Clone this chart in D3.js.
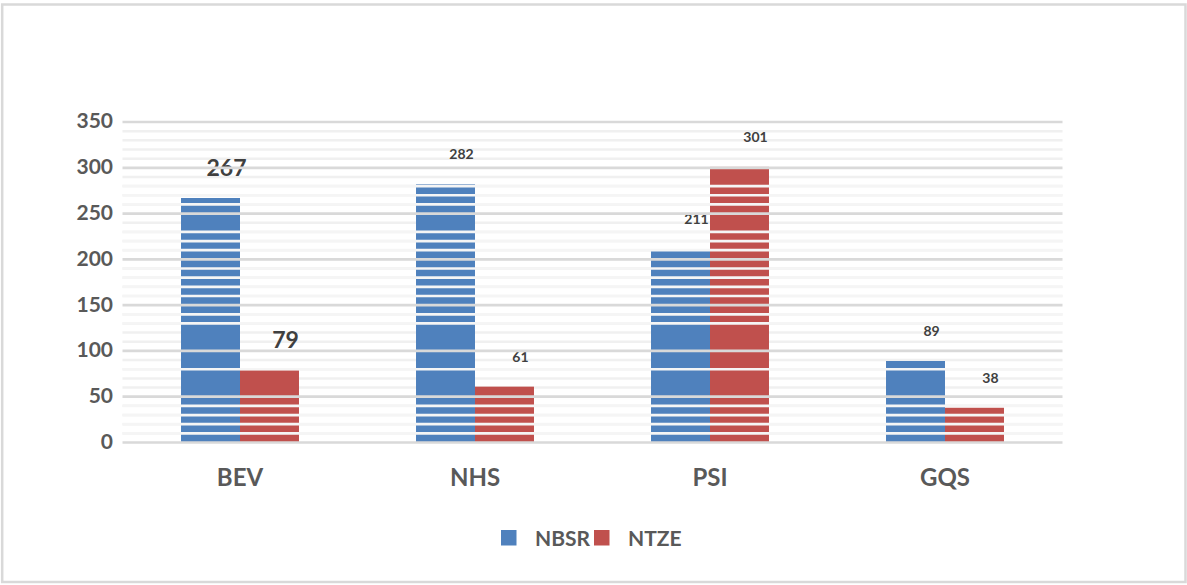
<!DOCTYPE html>
<html>
<head>
<meta charset="utf-8">
<script src="https://cdn.jsdelivr.net/npm/d3@7"></script>
<style>
  html, body { margin: 0; padding: 0; background: #fff; }
  svg { display: block; }
  text { font-family: Lato, "Open Sans", sans-serif; font-weight: bold; }
</style>
</head>
<body>
<svg id="chart" width="1187" height="585"></svg>
<script>
// ---- data ----
const categories = ["BEV", "NHS", "PSI", "GQS"];
const seriesNames = ["NBSR", "NTZE"];
const nbsrValues = [267, 282, 211, 89];
const ntzeValues = [79, 61, 301, 38];
const yTickValues = [0, 50, 100, 150, 200, 250, 300, 350];
const minorTickValues = d3.range(10, 350, 10).filter(v => v % 50 !== 0);
const stripeTickValues = [10, 20, 30, 40, 80, 130, 140, 160, 170, 180, 190, 210, 220, 230, 260, 270, 280];

const colors = { NBSR: "#4f81bd", NTZE: "#c0504d" };

const svg = d3.select("#chart");
const plot = { left: 122.5, right: 1062.5, top: 122, bottom: 442.5 };

// outer border
svg.append("rect")
  .attr("x", 2.2).attr("y", 4.5).attr("width", 1183.3).attr("height", 577.5)
  .attr("fill", "none").attr("stroke", "#d9d9d9").attr("stroke-width", 2.5);

const y = d3.scaleLinear().domain([0, 350]).range([plot.bottom, plot.top]);
const x0 = d3.scaleBand().domain(categories).range([plot.left, plot.right]).paddingInner(0).paddingOuter(0);
const x1 = d3.scaleBand().domain(seriesNames).range([0, x0.bandwidth()]).paddingInner(0).paddingOuter(0.992);

const rows = categories.map((c, i) => ({
  cat: c,
  values: [
    { s: "NBSR", v: nbsrValues[i] },
    { s: "NTZE", v: ntzeValues[i] }
  ]
}));

// minor gridlines
svg.append("g").selectAll("line").data(minorTickValues).join("line")
  .attr("x1", plot.left).attr("x2", plot.right)
  .attr("y1", d => y(d)).attr("y2", d => y(d))
  .attr("stroke", "#f0f0f0").attr("stroke-width", 2.5);

// bars
const groups = svg.append("g").selectAll("g").data(rows).join("g")
  .attr("transform", d => `translate(${x0(d.cat)},0)`);
groups.selectAll("rect").data(d => d.values).join("rect")
  .attr("x", d => x1(d.s))
  .attr("width", x1.bandwidth())
  .attr("y", d => y(d.v))
  .attr("height", d => y(0) - y(d.v))
  .attr("fill", d => colors[d.s]);

// stripes over bars
svg.append("g").selectAll("line").data(stripeTickValues).join("line")
  .attr("x1", plot.left).attr("x2", plot.right)
  .attr("y1", d => y(d)).attr("y2", d => y(d))
  .attr("stroke", "#f5f5f5").attr("stroke-width", 2.7);

// major gridlines
svg.append("g").selectAll("line").data(yTickValues).join("line")
  .attr("x1", plot.left).attr("x2", plot.right)
  .attr("y1", d => y(d)).attr("y2", d => y(d))
  .attr("stroke", "#d9d9d9").attr("stroke-width", 2.7);

// y axis labels
const yAxis = d3.axisLeft(y).tickValues(yTickValues).tickSize(0).tickPadding(0);
const yg = svg.append("g").attr("transform", `translate(113,0)`).call(yAxis);
yg.select(".domain").remove();
yg.selectAll("text")
  .attr("fill", "#595959")
  .style("font-size", "21px")
  .style("font-family", "Lato, 'Open Sans', sans-serif")
  .style("font-weight", "bold")
  .attr("dy", "0.28em");

// x axis labels
const xAxis = d3.axisBottom(x0).tickSize(0).tickPadding(0);
const xg = svg.append("g").attr("transform", `translate(0,477)`).call(xAxis);
xg.select(".domain").remove();
xg.selectAll("text")
  .attr("fill", "#595959")
  .style("font-size", "24px")
  .style("font-family", "Lato, 'Open Sans', sans-serif")
  .style("font-weight", "bold")
  .attr("dy", "0.36em");

// data labels
groups.selectAll("text.val").data(d => d.values.map(v => ({ ...v, cat: d.cat }))).join("text")
  .attr("class", "val")
  .attr("x", d => x1(d.s) + x1.bandwidth() / 2 + 16)
  .attr("y", d => y(d.v) - 30)
  .attr("dy", "0.36em")
  .attr("text-anchor", "middle")
  .attr("fill", "#404040")
  .style("font-size", d => d.cat === "BEV" ? "23px" : "14px")
  .text(d => d.v);

// legend
const legend = svg.append("g");
const legendX = [501, 594];
seriesNames.forEach((s, i) => {
  legend.append("rect")
    .attr("x", legendX[i]).attr("y", 530).attr("width", 15.5).attr("height", 15.5)
    .attr("fill", colors[s]);
  legend.append("text")
    .attr("x", legendX[i] + 34).attr("y", 538).attr("dy", "0.36em")
    .attr("fill", "#595959").style("font-size", "21px")
    .text(s);
});
</script>
</body>
</html>
